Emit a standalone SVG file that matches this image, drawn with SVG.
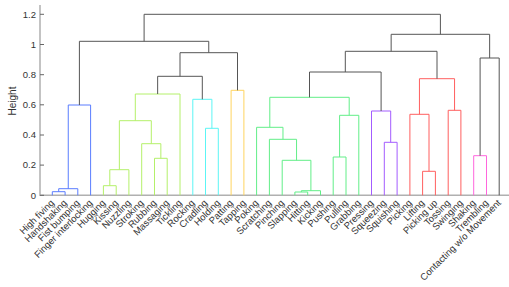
<svg xmlns="http://www.w3.org/2000/svg" width="509" height="287" viewBox="0 0 509 287">
<style>
text{font-family:"Liberation Sans",Arial,sans-serif;fill:#333}
.lbl{font-size:9.5px;text-anchor:end}
.tk{font-size:9.5px;text-anchor:end}
.ax{stroke:#b0b0b0;stroke-width:1.5;fill:none}
.tick{stroke:#666;stroke-width:1}
path{fill:none;stroke-width:1}
.k{stroke:#555}
.b{stroke:#5a7dff}
.l{stroke:#b4f06a}
.c{stroke:#5cf5f5}
.y{stroke:#ffd45e}
.g{stroke:#62ee88}
.p{stroke:#a35cff}
.r{stroke:#ff5f5f}
.m{stroke:#ff66dd}
</style>
<g id="axes">
<path class="ax" d="M40,5V195.3H509"/>
<path class="tick" d="M40,195.3h4M40,165.1h4M40,135h4M40,104.8h4M40,74.7h4M40,44.5h4M40,14.3h4"/>
<text class="tk" x="36" y="198.6">0</text>
<text class="tk" x="36" y="168.4">0.2</text>
<text class="tk" x="36" y="138.3">0.4</text>
<text class="tk" x="36" y="108.1">0.6</text>
<text class="tk" x="36" y="78">0.8</text>
<text class="tk" x="36" y="47.8">1</text>
<text class="tk" x="36" y="17.6">1.2</text>
<text x="15.5" y="101" font-size="10px" text-anchor="middle" transform="rotate(-90 15.5 101)">Height</text>
</g>
<g id="connectors">
<path class="b" d="M52.3,195.3V191.7H65.1V195.3"/>
<path class="b" d="M58.7,191.7V188.7H77.8V195.3"/>
<path class="b" d="M68.25,188.7V105H90.6V195.3"/>
<path class="l" d="M103.4,195.3V185.7H116.2V195.3"/>
<path class="l" d="M109.8,185.7V169.7H128.9V195.3"/>
<path class="l" d="M154.5,195.3V158.3H167.2V195.3"/>
<path class="l" d="M141.7,195.3V143.7H160.85V158.3"/>
<path class="l" d="M119.35,169.7V120.7H151.3V143.7"/>
<path class="l" d="M135.3,120.7V94H180V195.3"/>
<path class="c" d="M205.5,195.3V128.3H218.3V195.3"/>
<path class="c" d="M192.8,195.3V99.3H211.9V128.3"/>
<path class="k" d="M157.65,94V76.3H202.3V99.3"/>
<path class="y" d="M231.1,195.3V90.3H243.9V195.3"/>
<path class="k" d="M180,76.3V52.7H237.5V90.3"/>
<path class="k" d="M79.4,105V41.3H208.75V52.7"/>
<path class="g" d="M294.9,195.3V192H307.7V195.3"/>
<path class="g" d="M301.3,192V190.7H320.5V195.3"/>
<path class="g" d="M282.2,195.3V160.3H310.9V190.7"/>
<path class="g" d="M269.4,195.3V139.3H296.55V160.3"/>
<path class="g" d="M256.6,195.3V127.3H282.98V139.3"/>
<path class="g" d="M333.2,195.3V157H346V195.3"/>
<path class="g" d="M339.6,157V115.3H358.8V195.3"/>
<path class="g" d="M269.8,127.3V97.3H349.2V115.3"/>
<path class="p" d="M384.3,195.3V142.3H397.1V195.3"/>
<path class="p" d="M371.5,195.3V111H390.7V142.3"/>
<path class="k" d="M309.5,97.3V72H381.1V111"/>
<path class="r" d="M422.6,195.3V171.3H435.4V195.3"/>
<path class="r" d="M409.9,195.3V114.3H429V171.3"/>
<path class="r" d="M448.2,195.3V110.3H460.9V195.3"/>
<path class="r" d="M419.45,114.3V78.7H454.55V110.3"/>
<path class="k" d="M345.3,72V51.3H437V78.7"/>
<path class="m" d="M473.7,195.3V155.7H486.5V195.3"/>
<path class="k" d="M480.1,155.7V58H499.2V195.3"/>
<path class="k" d="M391.15,51.3V34.3H489.65V58"/>
<path class="k" d="M144.1,41.3V14.3H440.4V34.3"/>
</g>
<g id="leaf-high-fiving"><text class="lbl" transform="translate(54.8,203.5) rotate(-45)">High fiving</text></g>
<g id="leaf-handshaking"><text class="lbl" transform="translate(67.6,203.5) rotate(-45)">Handshaking</text></g>
<g id="leaf-fist-bumping"><text class="lbl" transform="translate(80.3,203.5) rotate(-45)">Fist bumping</text></g>
<g id="leaf-finger-interlocking"><text class="lbl" transform="translate(93.1,203.5) rotate(-45)">Finger interlocking</text></g>
<g id="leaf-hugging"><text class="lbl" transform="translate(105.9,203.5) rotate(-45)">Hugging</text></g>
<g id="leaf-kissing"><text class="lbl" transform="translate(118.7,203.5) rotate(-45)">Kissing</text></g>
<g id="leaf-nuzzling"><text class="lbl" transform="translate(131.4,203.5) rotate(-45)">Nuzzling</text></g>
<g id="leaf-stroking"><text class="lbl" transform="translate(144.2,203.5) rotate(-45)">Stroking</text></g>
<g id="leaf-rubbing"><text class="lbl" transform="translate(157,203.5) rotate(-45)">Rubbing</text></g>
<g id="leaf-massaging"><text class="lbl" transform="translate(169.7,203.5) rotate(-45)">Massaging</text></g>
<g id="leaf-tickling"><text class="lbl" transform="translate(182.5,203.5) rotate(-45)">Tickling</text></g>
<g id="leaf-rocking"><text class="lbl" transform="translate(195.3,203.5) rotate(-45)">Rocking</text></g>
<g id="leaf-cradling"><text class="lbl" transform="translate(208,203.5) rotate(-45)">Cradling</text></g>
<g id="leaf-holding"><text class="lbl" transform="translate(220.8,203.5) rotate(-45)">Holding</text></g>
<g id="leaf-patting"><text class="lbl" transform="translate(233.6,203.5) rotate(-45)">Patting</text></g>
<g id="leaf-tapping"><text class="lbl" transform="translate(246.4,203.5) rotate(-45)">Tapping</text></g>
<g id="leaf-poking"><text class="lbl" transform="translate(259.1,203.5) rotate(-45)">Poking</text></g>
<g id="leaf-scratching"><text class="lbl" transform="translate(271.9,203.5) rotate(-45)">Scratching</text></g>
<g id="leaf-pinching"><text class="lbl" transform="translate(284.7,203.5) rotate(-45)">Pinching</text></g>
<g id="leaf-slapping"><text class="lbl" transform="translate(297.4,203.5) rotate(-45)">Slapping</text></g>
<g id="leaf-hitting"><text class="lbl" transform="translate(310.2,203.5) rotate(-45)">Hitting</text></g>
<g id="leaf-kicking"><text class="lbl" transform="translate(323,203.5) rotate(-45)">Kicking</text></g>
<g id="leaf-pushing"><text class="lbl" transform="translate(335.7,203.5) rotate(-45)">Pushing</text></g>
<g id="leaf-pulling"><text class="lbl" transform="translate(348.5,203.5) rotate(-45)">Pulling</text></g>
<g id="leaf-grabbing"><text class="lbl" transform="translate(361.3,203.5) rotate(-45)">Grabbing</text></g>
<g id="leaf-pressing"><text class="lbl" transform="translate(374,203.5) rotate(-45)">Pressing</text></g>
<g id="leaf-squeezing"><text class="lbl" transform="translate(386.8,203.5) rotate(-45)">Squeezing</text></g>
<g id="leaf-squishing"><text class="lbl" transform="translate(399.6,203.5) rotate(-45)">Squishing</text></g>
<g id="leaf-picking"><text class="lbl" transform="translate(412.4,203.5) rotate(-45)">Picking</text></g>
<g id="leaf-lifting"><text class="lbl" transform="translate(425.1,203.5) rotate(-45)">Lifting</text></g>
<g id="leaf-picking-up"><text class="lbl" transform="translate(437.9,203.5) rotate(-45)">Picking up</text></g>
<g id="leaf-tossing"><text class="lbl" transform="translate(450.7,203.5) rotate(-45)">Tossing</text></g>
<g id="leaf-swinging"><text class="lbl" transform="translate(463.4,203.5) rotate(-45)">Swinging</text></g>
<g id="leaf-shaking"><text class="lbl" transform="translate(476.2,203.5) rotate(-45)">Shaking</text></g>
<g id="leaf-trembling"><text class="lbl" transform="translate(489,203.5) rotate(-45)">Trembling</text></g>
<g id="leaf-contacting"><text class="lbl" transform="translate(501.7,203.5) rotate(-45)">Contacting w/o Movement</text></g>
</svg>
